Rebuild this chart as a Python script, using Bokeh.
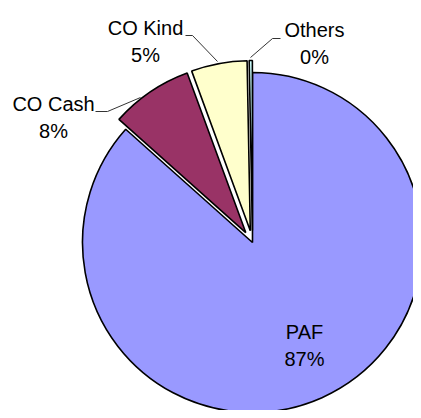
import math
from bokeh.plotting import figure
from bokeh.models import Range1d, ColumnDataSource
from bokeh.core.properties import value
from bokeh.embed import file_html
from bokeh.resources import INLINE

# ---- data ----
categories = ["PAF", "CO Cash", "CO Kind", "Others"]
shares = [86.6, 7.8, 5.3, 0.3]
colors = ["#9999FF", "#993366", "#FFFFCC", "#CCFFFF"]

# ---- layout (reference pixel coordinates) ----
W, H = 413, 410          # fits the 421x418 window with its 8px margin
CX, CY_PX, R = 252, 242, 170
EXPLODE = [0, 12, 12, 12]
label_anchor = {        # centre x, baseline of first line (pixels)
    "PAF": (304, 331),
    "CO Cash": (53, 103),
    "CO Kind": (145, 27),
    "Others": (314, 29),
}
LINE_GAP = 27
leaders = {
    "CO Cash": [(95, 111), (107, 111), (140, 97)],
    "CO Kind": [(185, 35), (192, 35), (217, 61)],
    "Others": [(280, 38), (272, 38), (250, 57)],
}

def py(v):
    return H - v

total = sum(shares)
xs, ys, starts, ends = [], [], [], []
cum = 0.0
for s, ex in zip(shares, EXPLODE):
    a0 = 90 - 360 * cum / total
    a1 = 90 - 360 * (cum + s) / total
    mid = math.radians((a0 + a1) / 2)
    xs.append(CX + ex * math.cos(mid))
    ys.append(py(CY_PX) + ex * math.sin(mid))
    starts.append(math.radians(a0))
    ends.append(math.radians(a1))
    cum += s

src = ColumnDataSource(dict(x=xs, y=ys, start=starts, end=ends, color=colors))

p = figure(width=W, height=H, output_backend="svg", toolbar_location=None,
           x_range=Range1d(0, W), y_range=Range1d(0, H),
           min_border=0, min_border_left=0, min_border_right=0,
           min_border_top=0, min_border_bottom=0)
p.axis.visible = False
p.grid.visible = False
p.outline_line_color = None
p.background_fill_color = "white"
p.border_fill_color = "white"

p.wedge(x="x", y="y", radius=R, start_angle="start", end_angle="end",
        direction="clock", fill_color="color", line_color="black",
        line_width=1.6, source=src)

# leader lines
lx = [[pt[0] for pt in leaders[k]] for k in leaders]
ly = [[py(pt[1]) for pt in leaders[k]] for k in leaders]
p.multi_line(xs=lx, ys=ly, line_color="#333333", line_width=1)

# labels
names_x, names_y, pct_x, pct_y, pcts = [], [], [], [], []
for c, s in zip(categories, shares):
    ax, ay = label_anchor[c]
    names_x.append(ax)
    names_y.append(py(ay))
    pct_x.append(ax)
    pct_y.append(py(ay + LINE_GAP))
    pcts.append(f"{round(100 * s / total)}%")

p.text(x=names_x, y=names_y, text=categories, text_font=value("Liberation Sans"),
       text_font_size="20px", text_align="center", text_baseline="alphabetic",
       text_color="black")
p.text(x=pct_x, y=pct_y, text=pcts, text_font=value("Liberation Sans"),
       text_font_size="20px", text_align="center", text_baseline="alphabetic",
       text_color="black")

open("out.html", "w").write(file_html(p, INLINE))
